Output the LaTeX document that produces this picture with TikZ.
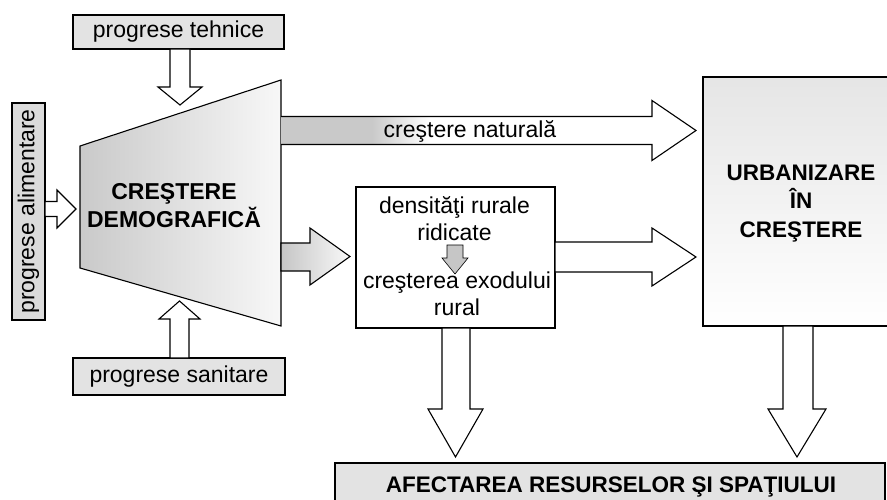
\documentclass[tikz,border=0pt]{standalone}
\usepackage{fontspec}
\setmainfont{Liberation Sans}
\begin{document}
\begin{tikzpicture}[x=1pt,y=-1pt, line width=1.1pt, line join=miter,
  txt/.style={font=\fontsize{23}{27}\selectfont, inner sep=0pt, align=center},
  btxt/.style={font=\fontsize{23}{28}\selectfont\bfseries, inner sep=0pt, align=center},
  labelbox/.style={draw, fill=gray!22, inner sep=0pt},
  hollow/.style={draw, fill=white}]
\useasboundingbox (0,0) rectangle (887,500);
\clip (0,0) rectangle (887,500);

% central trapezoid
\shadedraw[left color=gray!42, right color=gray!6] (80,146) -- (281,80) -- (281,326) -- (80,268) -- cycle;
\node[btxt] (demo) at (174,206) {CREŞTERE\\DEMOGRAFICĂ};

% label boxes
\node[labelbox, txt, minimum width=211pt, minimum height=34pt] (tehnice) at (178.5,32) {progrese tehnice};
\node[labelbox, txt, minimum width=212pt, minimum height=37pt] (sanitare) at (179,376.5) {progrese sanitare};
\node[labelbox, txt, fill=gray!28, minimum width=217pt, minimum height=33pt, rotate=90] (alim) at (28.5,211.5) {progrese alimentare};

% inflow arrows
\filldraw[hollow] (170,49) -- (170,87) -- (158,87) -- (180,105) -- (202,87) -- (190,87) -- (190,49) -- cycle;
\filldraw[hollow] (170,358) -- (170,319) -- (159,319) -- (179.5,301) -- (200,319) -- (189,319) -- (189,358) -- cycle;
\filldraw[hollow] (45,201.5) -- (57,201.5) -- (57,190) -- (76,209) -- (57,228) -- (57,216.5) -- (45,216.5) -- cycle;

% crestere naturala arrow
\fill[white] (281,116.5) -- (652,116.5) -- (652,100.5) -- (696,130.5) -- (652,160.5) -- (652,144.5) -- (281,144.5) -- cycle;
\fill[gray!42] (281,116.5) rectangle (372,144.5);
\shade[left color=gray!42, right color=white] (372,116.5) rectangle (430,144.5);
\draw (281,116.5) -- (652,116.5) -- (652,100.5) -- (696,130.5) -- (652,160.5) -- (652,144.5) -- (281,144.5);
\node[txt] (nat) at (470,131) {creştere naturală};

% arrow trapezoid -> middle box
\shadedraw[left color=gray!45, right color=gray!5] (281,243) -- (310,243) -- (310,228) -- (350,256.5) -- (310,285) -- (310,271) -- (281,271) -- cycle;

% middle box
\node[draw, fill=white, inner sep=0pt, minimum width=199pt, minimum height=141pt] (mid) at (455.5,257.5) {};
\node[txt] (dens) at (454.5,218.5) {densităţi rurale\\ridicate};
\node[txt] (exod) at (457,293.5) {creşterea exodului\\rural};
\filldraw[fill=gray!45, line width=0.6pt] (447,245) -- (463,245) -- (463,258) -- (468,258) -- (455,274) -- (442,258) -- (447,258) -- cycle;

% arrow middle -> urbanizare
\filldraw[hollow] (555,242) -- (652,242) -- (652,228) -- (696,257) -- (652,286) -- (652,272) -- (555,272) -- cycle;

% urbanizare box
\shadedraw[top color=gray!20, bottom color=white] (703,77) rectangle (900,326);
\node[btxt, font=\fontsize{22.5}{28.5}\selectfont\bfseries] (urb) at (801,203.5) {URBANIZARE\\ÎN\\CREŞTERE};

% down arrows
\filldraw[hollow] (442,328) -- (442,409) -- (428,409) -- (455.5,457) -- (483,409) -- (470,409) -- (470,328) -- cycle;
\filldraw[hollow] (783,326) -- (783,409) -- (768,409) -- (797,457) -- (826,409) -- (813,409) -- (813,326) -- cycle;

% bottom box
\filldraw[fill=gray!22] (335,463) rectangle (885,515);
\node[btxt, font=\fontsize{22.5}{27}\selectfont\bfseries] (afect) at (611,487) {AFECTAREA RESURSELOR ŞI SPAŢIULUI};
\end{tikzpicture}
\end{document}
